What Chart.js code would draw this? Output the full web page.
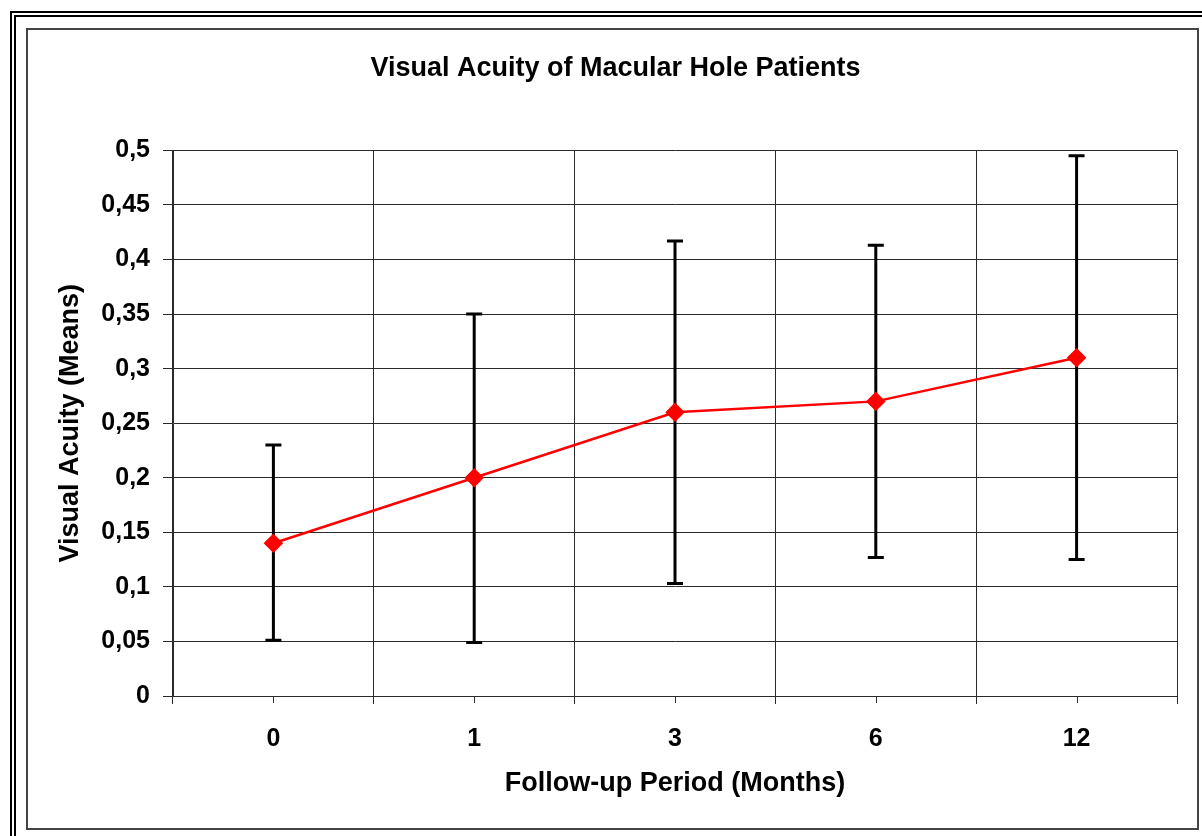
<!DOCTYPE html>
<html>
<head>
<meta charset="utf-8">
<script src="https://cdn.jsdelivr.net/npm/chart.js@4.4.1/dist/chart.umd.min.js"></script>
<style>
  html, body { margin: 0; padding: 0; background: #fff; overflow: hidden; }
  .outer { position: absolute; left: 10px; top: 11px; width: 1300px; height: 900px;
           border-top: 6px double #000; border-left: 6px double #000; }
  .inner { position: absolute; left: 26px; top: 28px; width: 1169px; height: 798px;
           border: 2px solid #444; }
  .wrap { position: absolute; left: 0; top: 0; width: 1202px; height: 836px; }
</style>
</head>
<body>
<div class="outer"></div>
<div class="inner"></div>
<div class="wrap"><canvas id="acuityChart"></canvas></div>
<script>
const months = ['0', '1', '3', '6', '12'];
const meanAcuity = [0.14, 0.20, 0.26, 0.27, 0.31];
const upperBound = [0.23, 0.35, 0.417, 0.413, 0.495];
const lowerBound = [0.051, 0.049, 0.103, 0.127, 0.125];
const yTickValues = [0, 0.05, 0.1, 0.15, 0.2, 0.25, 0.3, 0.35, 0.4, 0.45, 0.5];
const yTickLabels = ['0', '0,05', '0,1', '0,15', '0,2', '0,25', '0,3', '0,35', '0,4', '0,45', '0,5'];

const FONT = "'Liberation Sans', Arial, sans-serif";

// black error bars with caps, drawn under the red line
const errorBars = {
    id: 'errorBars',
    beforeDatasetsDraw(chart) {
        const { ctx, scales: { x, y } } = chart;
        ctx.save();
        ctx.strokeStyle = '#000';
        ctx.lineWidth = 3;
        months.forEach((m, i) => {
            const px = x.getPixelForValue(i);
            const top = y.getPixelForValue(upperBound[i]);
            const bot = y.getPixelForValue(lowerBound[i]);
            ctx.beginPath();
            ctx.moveTo(px, top);
            ctx.lineTo(px, bot);
            ctx.moveTo(px - 8, top);
            ctx.lineTo(px + 8, top);
            ctx.moveTo(px - 8, bot);
            ctx.lineTo(px + 8, bot);
            ctx.stroke();
        });
        ctx.restore();
    }
};

// short tick marks under each category centre
const centreTicks = {
    id: 'centreTicks',
    afterDraw(chart) {
        const { ctx, scales: { x }, chartArea } = chart;
        ctx.save();
        ctx.strokeStyle = '#333';
        ctx.lineWidth = 1;
        months.forEach((m, i) => {
            const px = Math.round(x.getPixelForValue(i)) + 0.5;
            ctx.beginPath();
            ctx.moveTo(px, chartArea.bottom);
            ctx.lineTo(px, chartArea.bottom + 7);
            ctx.stroke();
        });
        ctx.restore();
    }
};

const ctx = document.getElementById('acuityChart').getContext('2d');

new Chart(ctx, {
    type: 'line',
    data: {
        labels: months,
        datasets: [{
            label: 'Visual Acuity',
            data: meanAcuity,
            borderColor: '#ff0000',
            backgroundColor: '#ff0000',
            borderWidth: 2.5,
            pointStyle: 'rectRot',
            pointRadius: 8,
            pointHoverRadius: 8,
            tension: 0
        }]
    },
    options: {
        responsive: true,
        maintainAspectRatio: false,
        animation: false,
        layout: { padding: { left: 54, right: 25, top: 0, bottom: 0 } },
        plugins: {
            legend: { display: false },
            tooltip: { enabled: false },
            title: {
                display: true,
                text: 'Visual Acuity of Macular Hole Patients',
                color: '#000',
                font: { family: FONT, size: 27, weight: 'bold', lineHeight: 1.2 },
                padding: { top: 52, bottom: 66 }
            }
        },
        scales: {
            x: {
                offset: true,
                grid: { offset: true, color: '#2a2a2a', lineWidth: 1, tickLength: 8 },
                border: { color: '#2a2a2a', width: 1 },
                ticks: {
                    color: '#000',
                    padding: 20,
                    font: { family: FONT, size: 25, weight: 'bold' }
                },
                title: {
                    display: true,
                    text: 'Follow-up Period (Months)',
                    color: '#000',
                    font: { family: FONT, size: 27, weight: 'bold', lineHeight: 1.2 },
                    padding: { top: 0, bottom: 36 }
                },
                afterFit(scale) { scale.height = 140; }
            },
            y: {
                min: 0,
                max: 0.5,
                afterBuildTicks(scale) {
                    scale.ticks = yTickValues.map(v => ({ value: v }));
                },
                grid: { color: '#2a2a2a', lineWidth: 1, tickLength: 10 },
                border: { color: '#2a2a2a', width: 1 },
                ticks: {
                    color: '#000',
                    padding: 13,
                    font: { family: FONT, size: 25, weight: 'bold' },
                    callback: (value, index) => yTickLabels[index]
                },
                title: {
                    display: true,
                    text: 'Visual Acuity (Means)',
                    color: '#000',
                    font: { family: FONT, size: 27, weight: 'bold', lineHeight: 1.2 },
                    padding: { top: 0, bottom: 0 }
                },
                afterFit(scale) { scale.width = 119; }
            }
        }
    },
    plugins: [errorBars, centreTicks]
});
</script>
</body>
</html>
